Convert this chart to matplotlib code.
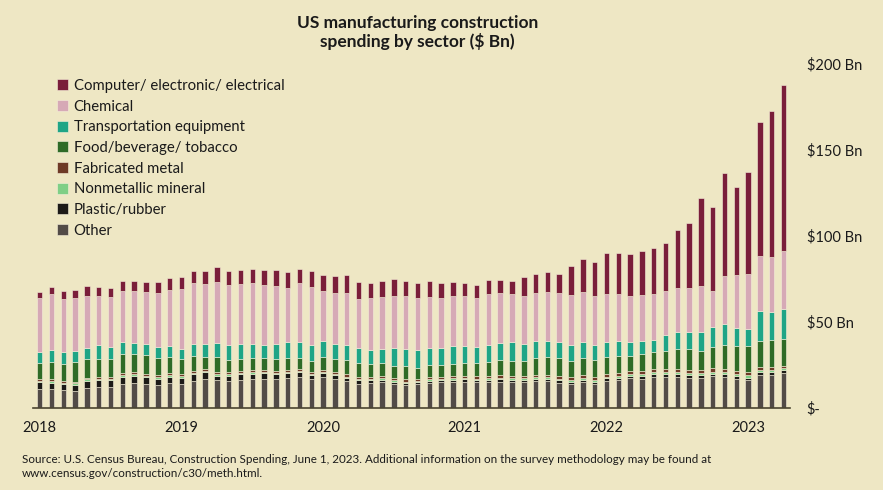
import matplotlib.pyplot as plt
from matplotlib.patches import Patch

# --------------------------------
# Data ($ Bn, monthly Jan 2018 - Apr 2023)
# --------------------------------
years = ["2018", "2019", "2020", "2021", "2022", "2023"]

other = [11.0, 10.9, 10.3, 10.1, 11.8, 12.4, 12.4, 14.1, 14.7, 14.1, 13.4, 14.8,
         14.0, 15.7, 16.7, 16.3, 15.7, 16.3, 16.9, 16.9, 17.2, 17.8, 18.2, 16.7,
         18.2, 17.2, 15.7, 14.3, 14.9, 15.5, 14.3, 13.4, 13.8, 14.7, 15.1, 15.3,
         15.5, 15.1, 15.3, 15.5, 15.1, 15.1, 15.7, 15.7, 14.9, 14.0, 15.1, 14.1,
         15.9, 16.3, 17.4, 17.2, 18.2, 18.2, 18.2, 17.6, 17.6, 18.6, 18.2, 17.2,
         16.3, 19.2, 19.2, 20.2]
plastic = [4.1, 4.0, 3.8, 3.6, 4.2, 4.0, 4.0, 4.3, 4.2, 3.9, 3.8, 3.5,
           3.7, 3.9, 4.1, 2.5, 3.1, 3.3, 3.1, 3.3, 2.7, 2.6, 2.8, 2.4,
           2.0, 1.9, 1.9, 1.9, 1.3, 1.1, 1.1, 1.2, 1.2, 1.2, 1.2, 1.2,
           1.2, 1.2, 1.3, 1.3, 1.3, 1.3, 1.3, 1.3, 1.3, 1.3, 1.3, 1.3,
           1.4, 1.4, 1.4, 1.5, 1.5, 1.5, 1.6, 1.5, 1.6, 1.5, 1.6, 1.5,
           1.5, 1.7, 1.8, 1.8]
nonmetallic = [0.8] * 30 + [0.9] * 8 + [1.0] * 7 + [1.1] * 6 + [1.2] * 10 + [1.3] * 3
fabricated = [1.0] * 5 + [1.1] * 7 + [1.2] * 24 + [1.3] * 3 + [1.4] * 2 + [1.5] * 6 \
    + [1.6] * 3 + [1.7] * 3 + [1.8] * 8 + [1.6, 1.6, 1.5]
food = [9.5, 9.9, 9.7, 11.1, 10.5, 10.4, 10.2, 11.1, 10.8, 10.9, 10.0, 9.7,
        8.9, 8.8, 7.0, 9.0, 7.1, 6.9, 7.1, 6.7, 6.8, 6.5, 5.9, 6.2,
        7.3, 7.4, 8.3, 8.2, 7.4, 7.6, 7.1, 7.7, 6.0, 7.0, 6.6, 6.8,
        7.5, 7.5, 8.2, 8.7, 8.9, 8.8, 9.8, 10.2, 10.6, 9.8, 9.9, 9.8,
        10.0, 10.0, 8.8, 9.8, 10.0, 10.6, 11.5, 12.2, 10.9, 12.6, 13.8, 14.3,
        15.4, 15.3, 15.6, 15.7]
transport = [6.2, 7.1, 7.0, 6.7, 6.4, 7.9, 7.0, 6.8, 6.4, 6.4, 6.3, 6.5,
             6.0, 7.0, 7.4, 8.0, 8.9, 8.9, 8.1, 7.9, 8.4, 9.3, 9.5, 9.7,
             9.5, 8.7, 9.1, 8.3, 8.3, 8.1, 10.3, 10.1, 11.0, 9.9, 9.9, 10.6,
             9.6, 9.5, 9.7, 10.1, 10.5, 9.7, 9.7, 9.4, 9.1, 8.9, 9.3, 8.7,
             8.2, 8.9, 8.1, 7.7, 7.3, 9.1, 10.1, 10.1, 11.3, 11.6, 12.6, 10.7,
             9.9, 17.5, 16.7, 17.1]
chemical = [31.2, 32.6, 30.8, 31.0, 30.6, 28.7, 29.0, 29.8, 30.0, 30.4, 31.6, 32.5,
            34.7, 35.1, 34.9, 35.8, 35.1, 34.9, 35.5, 34.7, 33.9, 31.4, 34.3, 33.3,
            29.0, 30.0, 29.7, 28.9, 29.9, 30.2, 30.1, 30.6, 29.7, 29.8, 29.2, 29.1,
            29.1, 28.4, 29.5, 28.7, 28.1, 27.7, 27.7, 28.5, 28.8, 29.1, 29.4, 28.5,
            28.1, 27.2, 26.5, 26.8, 26.4, 25.6, 25.4, 25.4, 26.5, 20.9, 27.5, 31.0,
            32.0, 32.0, 31.8, 33.9]
computer = [3.6, 3.9, 4.6, 4.5, 5.6, 5.0, 5.5, 5.8, 6.0, 6.0, 6.3, 6.7,
            6.8, 7.2, 7.6, 8.4, 7.8, 8.1, 8.5, 8.9, 9.1, 9.7, 8.5, 9.5,
            9.5, 9.5, 10.6, 9.8, 9.1, 9.7, 10.2, 8.7, 8.9, 9.5, 8.6, 8.0,
            7.6, 8.0, 8.1, 7.7, 7.5, 11.1, 11.6, 11.5, 10.7, 16.9, 19.0, 19.8,
            23.8, 24.0, 24.5, 25.6, 27.1, 28.3, 33.7, 37.8, 51.4, 48.9, 59.9, 51.0,
            59.3, 77.5, 84.7, 96.5]

series = [
    ("Other", other, "#524b47"),
    ("Plastic/rubber", plastic, "#1c1a17"),
    ("Nonmetallic mineral", nonmetallic, "#7fcf86"),
    ("Fabricated metal", fabricated, "#6e3a26"),
    ("Food/beverage/ tobacco", food, "#2f6b27"),
    ("Transportation equipment", transport, "#1fa586"),
    ("Chemical", chemical, "#d6a9b6"),
    ("Computer/ electronic/ electrical", computer, "#7a1e3a"),
]

BG = "#eee7c4"
plt.rcParams["font.family"] = ["Lato", "DejaVu Sans"]

# --------------------------------
# Plot
# --------------------------------
fig = plt.figure(figsize=(8.83, 4.9), dpi=100, facecolor=BG)
ax = fig.add_axes([0.0374, 0.167, 0.8573, 0.702])
ax.set_facecolor(BG)

x = list(range(len(other)))
bottom = [0.0] * len(x)
for name, vals, color in series:
    ax.bar(x, vals, width=0.46, bottom=bottom, color=color,
           edgecolor="#f6f0da", linewidth=0.4)
    bottom = [b + v for b, v in zip(bottom, vals)]

ax.set_xlim(-0.57, 63.55)
ax.set_ylim(0, 200)

for side in ["top", "left", "right"]:
    ax.spines[side].set_visible(False)
ax.spines["bottom"].set_color("#4a4430")
ax.spines["bottom"].set_linewidth(1.2)

ax.set_xticks([i * 12 for i in range(len(years))])
ax.set_xticklabels(years, fontsize=10.5, color="#1a1a1a")
ax.tick_params(axis="x", length=0, pad=9)

ax.yaxis.tick_right()
ax.set_yticks([0, 50, 100, 150, 200])
ax.set_yticklabels(["$-", "$50 Bn", "$100 Bn", "$150 Bn", "$200 Bn"],
                   fontsize=10.5, color="#1a1a1a")
ax.tick_params(axis="y", length=0, pad=12)

handles = [Patch(facecolor=c, edgecolor="#f6f0da", linewidth=0.4, label=n)
           for n, v, c in reversed(series)]
fig.legend(handles=handles, loc="upper left", bbox_to_anchor=(0.058, 0.851),
           frameon=False, fontsize=10.7, handlelength=0.75, handleheight=0.75,
           handletextpad=0.35, labelspacing=0.45, borderaxespad=0,
           labelcolor="#1a1a1a")

fig.text(0.473, 0.970, "US manufacturing construction\nspending by sector ($ Bn)",
         ha="center", va="top", fontsize=12.5, fontweight="bold",
         color="#1a1a1a", linespacing=1.2)

fig.text(0.025, 0.073,
         "Source: U.S. Census Bureau, Construction Spending, June 1, 2023. "
         "Additional information on the survey methodology may be found at\n"
         "www.census.gov/construction/c30/meth.html.",
         ha="left", va="top", fontsize=8.4, color="#1a1a1a", linespacing=1.35,
         family=["Lato", "DejaVu Sans"])

fig.savefig("out.png", dpi=100, facecolor=BG)
